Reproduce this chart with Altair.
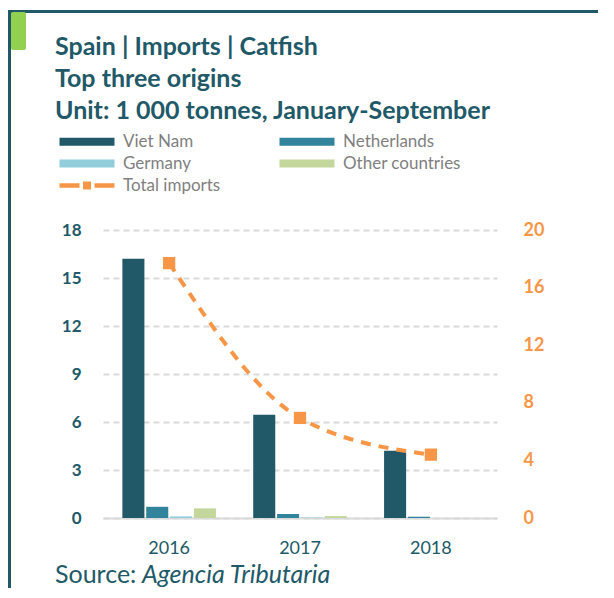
import altair as alt
import pandas as pd

# ---- data -------------------------------------------------------------
years = ["2016", "2017", "2018"]
series = ["Viet Nam", "Netherlands", "Germany", "Other countries"]
viet_nam = [16.2, 6.45, 4.2]
netherlands = [0.7, 0.25, 0.08]
germany = [0.1, 0.03, 0.0]
other_countries = [0.6, 0.12, 0.0]
total_imports = [17.7, 6.95, 4.4]
left_ticks = [0, 3, 6, 9, 12, 15, 18]
right_ticks = [0, 4, 8, 12, 16, 20]

title_lines = ["Spain | Imports | Catfish", "Top three origins",
               "Unit: 1 000 tonnes, January-September"]
source_label = "Source:"
source_name = "Agencia Tributaria"

# ---- style ------------------------------------------------------------
TEAL = "#215968"
ORANGE = "#F79646"
GREEN = "#92D050"
GRID = "#D9D9D9"
bar_colors = ["#215968", "#31849B", "#92CDDC", "#C3D69B"]
FONT = "Lato"

rows = []
for s, vals in zip(series, [viet_nam, netherlands, germany, other_countries]):
    for y, v in zip(years, vals):
        rows.append({"year": y, "series": s, "value": v})
bars_df = pd.DataFrame(rows)
total_df = pd.DataFrame({"year": years, "total": total_imports,
                         "label": ["Total imports"] * len(years)})

# legend symbols: unit r = 7px (symbolSize 196), drawn 55px wide
rect_path = "M-1,-0.571L6.857,-0.571L6.857,0.571L-1,0.571Z"
line_path = ("M-1,-0.314L1.857,-0.314L1.857,0.314L-1,0.314Z "
             "M2.357,-0.571L3.5,-0.571L3.5,0.571L2.357,0.571Z "
             "M4,-0.314L6.857,-0.314L6.857,0.314L4,0.314Z")

legend_common = dict(title=None, orient="none", legendX=-45, symbolSize=196,
                     symbolStrokeWidth=0, labelFontSize=17,
                     labelColor="#7F7F7F", labelOffset=48, padding=0)

x_enc = alt.X(
    "year:N", sort=years,
    scale=alt.Scale(paddingInner=0.285, paddingOuter=0.148),
    axis=alt.Axis(title=None, labelAngle=0, ticks=False, domainColor=GRID,
                  domainWidth=2, labelFontSize=18, labelColor=TEAL,
                  labelPadding=21, grid=False),
)

bars = alt.Chart(bars_df).mark_bar().encode(
    x=x_enc,
    xOffset=alt.XOffset("series:N", sort=series,
                        scale=alt.Scale(domain=series, paddingInner=0.075)),
    y=alt.Y("value:Q", scale=alt.Scale(domain=[0, 18]),
            axis=alt.Axis(title=None, values=left_ticks, orient="left",
                          domain=False, ticks=False, labelFontSize=17,
                          labelFontWeight="bold", labelColor=TEAL,
                          labelPadding=22, grid=True, gridDash=[6, 4],
                          gridColor=GRID, gridWidth=2)),
    color=alt.Color("series:N", sort=series,
                    scale=alt.Scale(domain=series, range=bar_colors),
                    legend=alt.Legend(legendY=-97, columns=2,
                                      direction="horizontal",
                                      symbolType=rect_path,
                                      columnPadding=84, rowPadding=4,
                                      **legend_common)),
)

right_axis = alt.Axis(title=None, values=right_ticks, orient="right",
                      domain=False, ticks=False, grid=False,
                      labelFontSize=18, labelFontWeight="bold",
                      labelColor=ORANGE, labelPadding=26)

line = alt.Chart(total_df).mark_line(
    interpolate="monotone", strokeDash=[10, 8], strokeWidth=4
).encode(
    x=alt.X("year:N", sort=years),
    y=alt.Y("total:Q", scale=alt.Scale(domain=[0, 20]), axis=right_axis),
    stroke=alt.Stroke("label:N",
                      scale=alt.Scale(domain=["Total imports"], range=[ORANGE]),
                      legend=alt.Legend(legendY=-53, symbolType=line_path,
                                        symbolFillColor=ORANGE,
                                        **legend_common)),
)

points = alt.Chart(total_df).mark_point(
    shape="square", filled=True, size=150, color=ORANGE, opacity=1
).encode(
    x=alt.X("year:N", sort=years),
    y=alt.Y("total:Q", scale=alt.Scale(domain=[0, 20]), axis=right_axis),
)

one = alt.Data(values=[{}])

left_border = alt.Chart(one).mark_rule(color=TEAL, strokeWidth=3).encode(
    x=alt.value(-93.5), y=alt.value(-220), y2=alt.value(370))
top_border = alt.Chart(one).mark_rule(color=TEAL, strokeWidth=3).encode(
    x=alt.value(-95), x2=alt.value(520), y=alt.value(-218.5))
tab = alt.Chart(one).mark_rect(color=GREEN, cornerRadius=2).encode(
    x=alt.value(-92), x2=alt.value(-77), y=alt.value(-218), y2=alt.value(-180))

title_y = [-183, -151, -119]
titles = [
    alt.Chart(one).mark_text(align="left", baseline="middle", font=FONT,
                             fontSize=25, fontWeight="bold", color=TEAL).encode(
        x=alt.value(-48), y=alt.value(ty), text=alt.value(t))
    for t, ty in zip(title_lines, title_y)
]

src1 = alt.Chart(one).mark_text(align="left", baseline="middle", font=FONT,
                                fontSize=25, color=TEAL).encode(
    x=alt.value(-48), y=alt.value(345), text=alt.value(source_label))
src2 = alt.Chart(one).mark_text(align="left", baseline="middle", font=FONT,
                                fontSize=25, fontStyle="italic", color=TEAL).encode(
    x=alt.value(39), y=alt.value(345), text=alt.value(source_name))

chart = alt.layer(
    left_border, top_border, tab, *titles, src1, src2,
    bars, alt.layer(line, points),
).resolve_scale(y="independent").properties(
    width=394, height=288,
    padding={"left": 95, "top": 222, "right": 101, "bottom": 70},
    autosize=alt.AutoSizeParams(type="none"),
).configure(font=FONT).configure_view(stroke=None)

chart.save("out.html", embed_options={"renderer": "svg", "actions": False})
